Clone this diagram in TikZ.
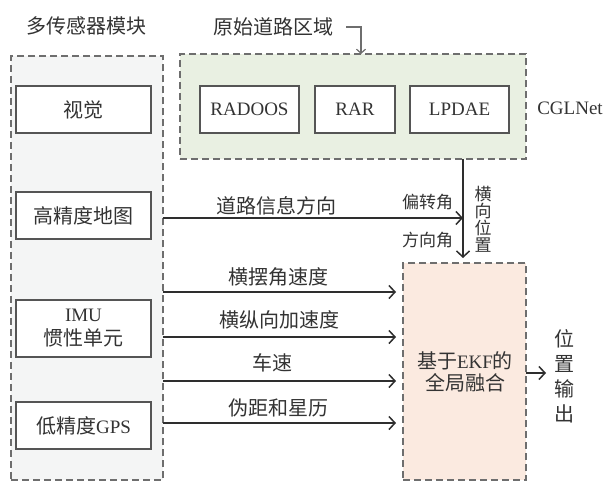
\documentclass[tikz,border=0pt]{standalone}
\usepackage{fontspec}
\setmainfont{Liberation Serif}
\newfontfamily\cjk{Noto Sans CJK SC}
\usetikzlibrary{arrows.meta}
\definecolor{txt}{HTML}{333333}
\definecolor{dashgray}{HTML}{6E6E6E}
\definecolor{boxgray}{HTML}{555555}
\definecolor{linec}{HTML}{2E2E2E}
\definecolor{lgray}{HTML}{F4F5F5}
\definecolor{lgreen}{HTML}{E9F0E2}
\definecolor{lorange}{HTML}{FBEAE0}
\begin{document}
\begin{tikzpicture}[x=1pt,y=-1pt,
  every node/.style={text=txt, inner sep=0pt, outer sep=0pt},
  lat/.style={font=\fontsize{19}{24}\selectfont},
  cj/.style={font=\cjk\fontsize{20}{24}\selectfont},
  cjsmall/.style={font=\cjk\fontsize{17}{17}\selectfont},
  cont/.style={draw=dashgray, dash pattern=on 7pt off 4pt, line width=1.4pt},
  box/.style={draw=boxgray, line width=1.3pt, fill=white},
  arr/.style={draw=linec, line width=1.5pt, -{Straight Barb[length=6pt,width=13pt,line width=1.5pt]}},
  arrsmall/.style={draw=dashgray, line width=1.2pt, -{Straight Barb[length=4pt,width=9pt,line width=1.2pt]}}
]
\fill[white] (0,0) rectangle (603,482);
\useasboundingbox (0,0) rectangle (603,482);

% containers
\node[cont, fill=lgray, minimum width=152pt, minimum height=424pt] (L) at (87,268) {};
\node[cont, fill=lgreen, minimum width=346pt, minimum height=105pt] (G) at (353,106.5) {};
\node[cont, fill=lorange, minimum width=123pt, minimum height=217pt] (O) at (464.5,371.5) {};

% titles
\node[cj] (t1) at (87,26) {多传感器模块};
\node[cj] (t2) at (273,27) {原始道路区域};
\node[lat] (cgl) at (570,108) {CGLNet};

% sensor boxes
\node[box, cj, minimum width=135pt, minimum height=47pt] (vis) at (83.5,109.5) {视觉};
\node[box, cj, minimum width=135pt, minimum height=47pt] (hdm) at (83.5,215.5) {高精度地图};
\node[box, lat, align=center, minimum width=135pt, minimum height=57pt] (imu) at (83.5,328.5) {IMU\\{\cjk\fontsize{20}{24}\selectfont 惯性单元}};
\node[box, lat, minimum width=135pt, minimum height=47pt] (gps) at (83.5,425.5) {{\cjk\fontsize{20}{24}\selectfont 低精度}GPS};

% CGLNet modules
\node[box, lat, minimum width=99pt, minimum height=47pt] (m1) at (249.5,109.5) {RADOOS};
\node[box, lat, minimum width=80pt, minimum height=47pt] (m2) at (355,109.5) {RAR};
\node[box, lat, minimum width=99pt, minimum height=47pt] (m3) at (459.5,109.5) {LPDAE};

% fusion box text
\node[align=center, font=\fontsize{19}{22}\selectfont] (fus) at (465,372) {{\cjk\fontsize{20}{22}\selectfont 基于}EKF{\cjk\fontsize{20}{22}\selectfont 的}\\{\cjk\fontsize{20}{22}\selectfont 全局融合}};

% output
\node[align=center, font=\cjk\fontsize{20}{25}\selectfont] (out) at (564,376) {位\\置\\输\\出};

% bent arrow from title to green box
\coordinate (bx) at (361,0);
\draw[arrsmall] ([xshift=13pt]t2.east) -| (G.north -| bx);

% vertical arrow
\coordinate (vx) at (463,0);
\draw[arr] (G.south -| vx) -- ([yshift=5pt]O.north -| vx);

% road info arrow
\coordinate (ry) at (0,218);
\draw[arr] (L.east |- ry) -- (vx |- ry);
\node[cj] (lab0) at (276,206) {道路信息方向};
\node[cjsmall, anchor=east] (yaw) at (453,202) {偏转角};
\node[cjsmall, anchor=east] (hd) at (453,240) {方向角};
\node[cjsmall, align=center] (latpos) at (483,219) {横\\向\\位\\置};

% sensor arrows
\coordinate (y1) at (0,292);
\coordinate (y2) at (0,337);
\coordinate (y3) at (0,381);
\coordinate (y4) at (0,423);
\draw[arr, shorten >=7pt] (L.east |- y1) -- (O.west |- y1);
\draw[arr, shorten >=7pt] (L.east |- y2) -- (O.west |- y2);
\draw[arr, shorten >=7pt] (L.east |- y3) -- (O.west |- y3);
\draw[arr, shorten >=7pt] (L.east |- y4) -- (O.west |- y4);
\node[cj] (a1) at (278,277) {横摆角速度};
\node[cj] (a2) at (279,320) {横纵向加速度};
\node[cj] (a3) at (272,363) {车速};
\node[cj] (a4) at (278,408) {伪距和星历};

% output arrow
\coordinate (oy) at (0,373);
\draw[arr] (O.east |- oy) -- ([xshift=-8pt]out.west |- oy);
\end{tikzpicture}
\end{document}
